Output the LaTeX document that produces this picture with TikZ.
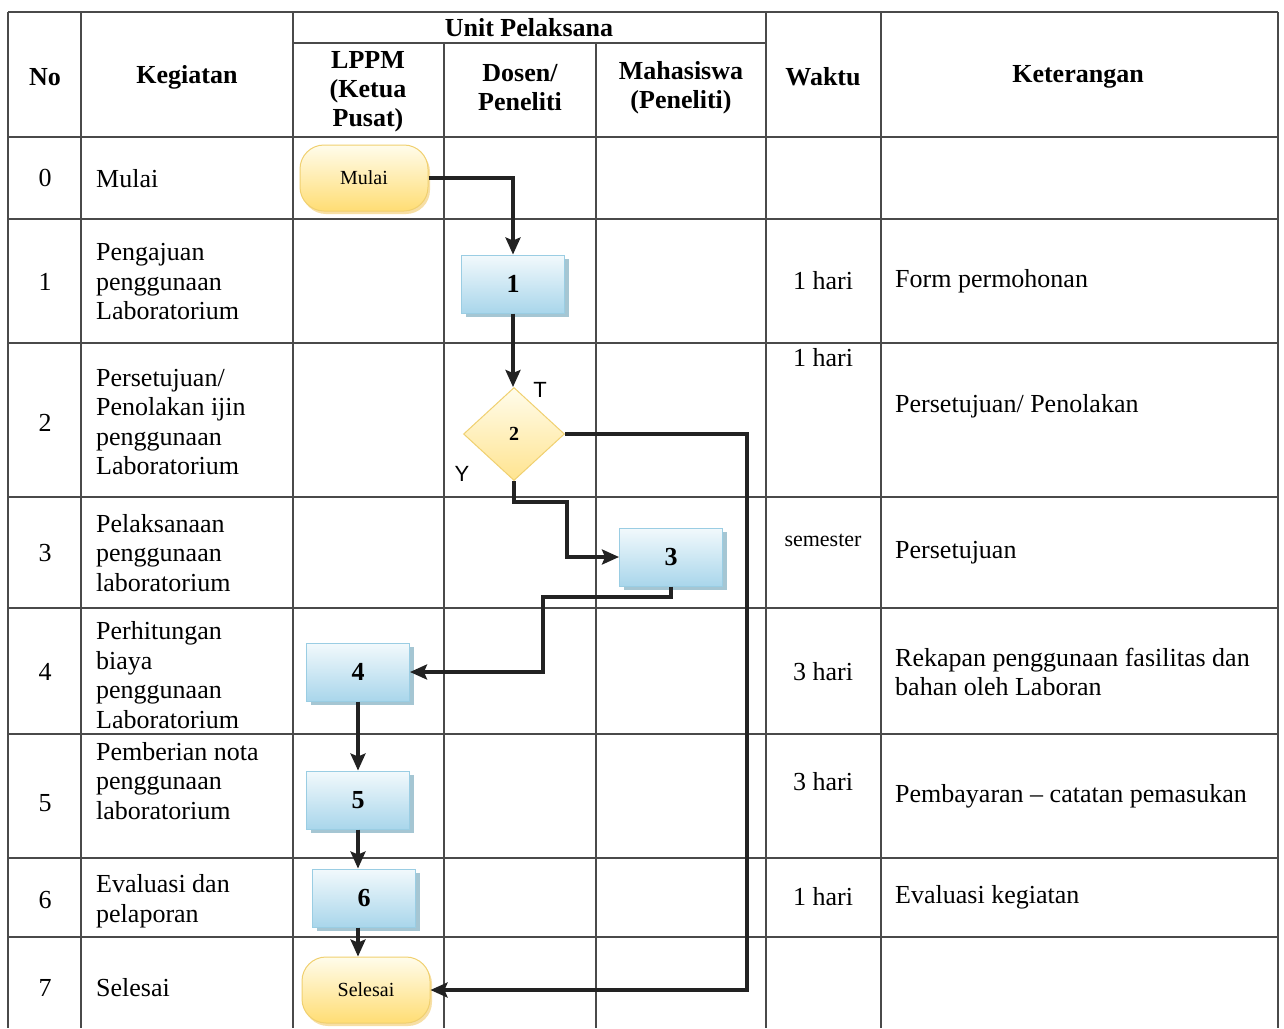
\documentclass[tikz,border=0pt]{standalone}
\usepackage{fontspec}
\setmainfont{Liberation Serif}
\newfontfamily\labelfont{Liberation Sans}
\usetikzlibrary{shapes,arrows.meta,shadows}

\definecolor{procBlue}{HTML}{A9D6EB}
\definecolor{procBlueTop}{HTML}{F2F9FC}
\definecolor{procBlueDraw}{HTML}{9ACDE3}
\definecolor{procShadow}{HTML}{8FB8C9}
\definecolor{termYellow}{HTML}{FFDD74}
\definecolor{termYellowTop}{HTML}{FFFCEB}
\definecolor{termYellowDraw}{HTML}{F0D070}
\definecolor{gridGray}{HTML}{4A4A4A}
\definecolor{arrowGray}{HTML}{222222}

\begin{document}
\begin{tikzpicture}[
            x=1pt, y=-1pt,
            grid/.style={
                    draw=gridGray,
                    line width=1.1pt
                },
            cell/.style={
                    inner sep=0pt,
                    font=\fontsize{26}{29.5}\selectfont
                },
            headcell/.style={
                    cell,
                    align=center,
                    font=\fontsize{26}{29}\selectfont\bfseries
                },
            kegcell/.style={
                    cell,
                    anchor=west,
                    align=left
                },
            process/.style={
                    rectangle,
                    draw=procBlueDraw,
                    line width=1pt,
                    top color=procBlueTop,
                    bottom color=procBlue,
                    minimum width=103pt,
                    minimum height=58pt,
                    font=\fontsize{26}{26}\selectfont\bfseries,
                    drop shadow={shadow xshift=4pt, shadow yshift=-4pt, fill=procShadow, opacity=0.8}
                },
            terminal/.style={
                    rectangle,
                    rounded corners=24pt,
                    draw=termYellowDraw,
                    line width=1pt,
                    top color=termYellowTop,
                    bottom color=termYellow,
                    minimum width=128pt,
                    minimum height=66pt,
                    font=\fontsize{20}{20}\selectfont,
                    drop shadow={shadow xshift=2pt, shadow yshift=-3pt, fill=termYellow!80!brown, opacity=0.6}
                },
            decision/.style={
                    diamond,
                    draw=termYellowDraw,
                    line width=1pt,
                    top color=termYellowTop,
                    bottom color=termYellow!80,
                    minimum width=101pt,
                    minimum height=93pt,
                    inner sep=0pt,
                    font=\fontsize{20}{20}\selectfont\bfseries
                },
            branch/.style={
                    font=\labelfont\fontsize{22}{22}\selectfont
                },
            arrow/.style={
                    -{Stealth[length=17pt,width=15pt,inset=3pt]},
                    line width=3.2pt,
                    draw=arrowGray
                }
        ]

        % Fond et cadre
        \fill[white] (0,0) rectangle (1284,1028);
        \useasboundingbox (0,0) rectangle (1284,1028);

        % Grille du tableau
        \foreach \x in {8,81,293,766,881,1278}
            \draw[grid] (\x,12) -- (\x,1028);
        \foreach \x in {444,596}
            \draw[grid] (\x,43) -- (\x,1028);
        \draw[grid] (8,12) -- (1278,12);
        \draw[grid] (293,43) -- (766,43);
        \foreach \y in {137,219,343,497,608,734,858,937}
            \draw[grid] (8,\y) -- (1278,\y);

        % En-tete
        \node[headcell] (hNo) at (45,77) {No};
        \node[headcell] (hKeg) at (187,77) {Kegiatan};
        \node[headcell] (hUnit) at (529,28) {Unit Pelaksana};
        \node[headcell] (hLppm) at (368,92) {LPPM\\(Ketua\\Pusat)};
        \node[headcell] (hDosen) at (520,88) {Dosen/\\Peneliti};
        \node[headcell] (hMhs) at (681,88) {Mahasiswa\\(Peneliti)};
        \node[headcell] (hWaktu) at (823,77) {Waktu};
        \node[headcell] (hKet) at (1078,77) {Keterangan};

        % Colonnes No et Kegiatan
        \foreach \i/\yn/\yk/\txt in {
                0/178/179/{Mulai},
                1/282/282/{Pengajuan\\penggunaan\\Laboratorium},
                2/423/422/{Persetujuan/\\Penolakan ijin\\penggunaan\\Laboratorium},
                3/553/553/{Pelaksanaan\\penggunaan\\laboratorium},
                4/672/675/{Perhitungan\\biaya\\penggunaan\\Laboratorium},
                5/803/781/{Pemberian nota\\penggunaan\\laboratorium},
                6/900/901/{Evaluasi dan\\pelaporan},
                7/988/988/{Selesai}}
            {
                \node[cell] (no\i) at (45,\yn) {\i};
                \node[kegcell] (keg\i) at (96,\yk) {\txt};
            }

        % Colonne Waktu
        \node[cell] (waktu1) at (823,281) {1 hari};
        \node[cell] (waktu2) at (823,358) {1 hari};
        \node[cell, font=\fontsize{22}{24}\selectfont] (waktu3) at (823,540) {semester};
        \node[cell] (waktu4) at (823,672) {3 hari};
        \node[cell] (waktu5) at (823,782) {3 hari};
        \node[cell] (waktu6) at (823,897) {1 hari};

        % Colonne Keterangan
        \node[kegcell] (ket1) at (895,281) {Form permohonan};
        \node[kegcell] (ket2) at (895,406) {Persetujuan/ Penolakan};
        \node[kegcell] (ket3) at (895,553) {Persetujuan};
        \node[kegcell] (ket4) at (895,672) {Rekapan penggunaan fasilitas dan\\bahan oleh Laboran};
        \node[kegcell] (ket5) at (895,796) {Pembayaran – catatan pemasukan};
        \node[kegcell] (ket6) at (895,897) {Evaluasi kegiatan};

        % Diagramme
        \node[terminal] (mulai) at (364,178) {Mulai};
        \node[process] (p1) at (513,284) {1};
        \node[decision] (d2) at (514,434) {2};
        \node[process] (p3) at (671,557) {3};
        \node[process] (p4) at (358,672) {4};
        \node[process] (p5) at (358,800) {5};
        \node[process] (p6) at (364,898) {6};
        \node[terminal] (selesai) at (366,990) {Selesai};

        \node[branch] (lblT) at (540,390) {T};
        \node[branch] (lblY) at (462,474) {Y};

        \coordinate (belokY) at (567,502);
        \coordinate (belok3) at (543,597);
        \coordinate (belokT) at (747,434);

        % Alur
        \draw[arrow] (mulai.east) -| (p1.north);
        \draw[arrow] (p1.south) -- (p1.south |- d2.north);
        \draw[arrow] (d2.south) |- (belokY) |- (p3.west);
        \draw[arrow] (d2.east) -| (belokT |- selesai.east) -- (selesai.east);
        \draw[arrow] (p3.south) |- (belok3) |- (p4.east);
        \draw[arrow] (p4) -- (p5);
        \draw[arrow] (p5.south) -- (p5.south |- p6.north);
        \draw[arrow] (p6.south -| p5.south) -- (p5.south |- selesai.north);

    \end{tikzpicture}
\end{document}
